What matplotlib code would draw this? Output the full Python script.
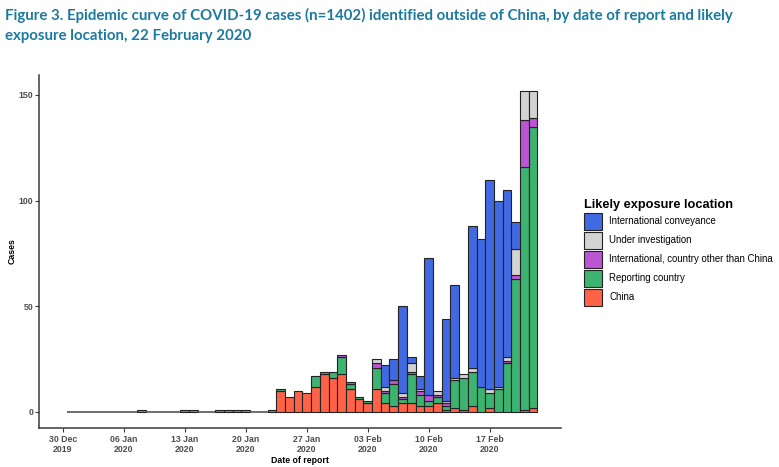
import pandas as pd
import numpy as np
import matplotlib.pyplot as plt
from matplotlib.patches import Patch

# daily counts, 31 Dec 2019 .. 22 Feb 2020
dates = pd.date_range('2019-12-31', '2020-02-22')

china = [0,
         0, 0, 0, 0, 0, 0, 0, 1, 0, 0,
         0, 0, 1, 1, 0, 0, 1, 1, 1, 1,
         0, 0, 1, 10, 7, 10, 9, 12, 18, 16, 18,
         11, 6, 4, 11, 4, 3, 4, 4, 3, 3, 4,
         1, 2, 1, 3, 0, 2, 0, 0, 0, 1, 2]
reporting = [0,
             0, 0, 0, 0, 0, 0, 0, 0, 0, 0,
             0, 0, 0, 0, 0, 0, 0, 0, 0, 0,
             0, 0, 0, 1, 0, 0, 0, 5, 1, 3, 8,
             2, 1, 1, 10, 5, 10, 2, 14, 5, 2, 3,
             2, 13, 15, 16, 12, 7, 11, 23, 63, 115, 133]
intl_other = [0,
              0, 0, 0, 0, 0, 0, 0, 0, 0, 0,
              0, 0, 0, 0, 0, 0, 0, 0, 0, 0,
              0, 0, 0, 0, 0, 0, 0, 0, 0, 0, 1,
              1, 0, 0, 2, 1, 2, 1, 1, 2, 3, 1,
              1, 0, 0, 0, 0, 0, 0, 1, 2, 22, 4]
under_inv = [0,
             0, 0, 0, 0, 0, 0, 0, 0, 0, 0,
             0, 0, 0, 0, 0, 0, 0, 0, 0, 0,
             0, 0, 0, 0, 0, 0, 0, 0, 0, 0, 0,
             0, 0, 0, 2, 2, 0, 2, 4, 1, 0, 2,
             1, 1, 2, 2, 0, 2, 1, 2, 12, 14, 13]
conveyance = [0,
              0, 0, 0, 0, 0, 0, 0, 0, 0, 0,
              0, 0, 0, 0, 0, 0, 0, 0, 0, 0,
              0, 0, 0, 0, 0, 0, 0, 0, 0, 0, 0,
              0, 0, 0, 0, 10, 10, 41, 3, 6, 65, 0,
              39, 44, 0, 67, 70, 99, 88, 79, 13, 0, 0]

# stacking order bottom -> top
series = [('China', china, 'tomato'),
          ('Reporting country', reporting, 'mediumseagreen'),
          ('International, country other than China', intl_other, 'mediumorchid'),
          ('Under investigation', under_inv, 'lightgray'),
          ('International conveyance', conveyance, 'royalblue')]

tick_dates = pd.to_datetime(['2019-12-30', '2020-01-06', '2020-01-13', '2020-01-20',
                             '2020-01-27', '2020-02-03', '2020-02-10', '2020-02-17'])
tick_labels = ['30 Dec\n2019', '06 Jan\n2020', '13 Jan\n2020', '20 Jan\n2020',
               '27 Jan\n2020', '03 Feb\n2020', '10 Feb\n2020', '17 Feb\n2020']

plt.rcParams['font.family'] = ['Liberation Sans', 'DejaVu Sans']
grey = '#4d4d4d'

fig = plt.figure(figsize=(7.79, 4.67), dpi=100)
ax = fig.add_axes([39 / 779, 39 / 467, (561 - 39) / 779, (428 - 74.7) / 467])

bottom = np.zeros(len(dates))
for name, vals, col in series:
    vals = np.array(vals, dtype=float)
    m = vals > 0
    ax.bar(dates[m], vals[m], width=1, bottom=bottom[m], color=col,
           edgecolor='#222222', linewidth=0.8)
    bottom += vals

# days with no cases show as flat outline
zero = bottom == 0
ax.bar(dates[zero], np.zeros(zero.sum()), width=1, color='none',
       edgecolor='#555555', linewidth=1.2)

origin = pd.Timestamp('2019-12-30')
ax.set_xlim(origin - pd.Timedelta(days=2.75), origin + pd.Timedelta(days=57.2))
ax.set_ylim(-7.6, 159.6)
ax.set_xticks(tick_dates)
ax.set_xticklabels(tick_labels)
ax.set_yticks([0, 50, 100, 150])

for s in ['top', 'right']:
    ax.spines[s].set_visible(False)
for s in ['left', 'bottom']:
    ax.spines[s].set_color('#3a3a3a')
    ax.spines[s].set_linewidth(1.1)
ax.tick_params(colors='#3a3a3a', length=3, width=0.8, labelsize=6.3, labelcolor=grey)
ax.tick_params(axis='x', pad=2)
ax.tick_params(axis='y', pad=1)
for lab in ax.get_xticklabels() + ax.get_yticklabels():
    lab.set_fontweight('bold')

ax.set_xlabel('Date of report', fontsize=6.3, fontweight='bold', labelpad=1)
ax.set_ylabel('Cases', fontsize=6.3, fontweight='bold', labelpad=1.5)

handles = [Patch(facecolor=col, edgecolor='#222222', linewidth=0.8) for _, _, col in series][::-1]
labels = [name for name, _, _ in series][::-1]
ax.legend(handles, labels, loc='upper left', bbox_to_anchor=(584 / 779, 1 - 199 / 467),
          bbox_transform=fig.transFigure, frameon=False, title='Likely exposure location',
          title_fontproperties={'weight': 'bold', 'size': 9.2}, fontsize=6.9,
          handlelength=1.85, handleheight=2.35, labelspacing=0.21, handletextpad=0.8,
          borderpad=0, borderaxespad=0, alignment='left')

title_col = '#1b7a9e'
fig.text(5 / 779, 1 - 15 / 467,
         'Figure 3. Epidemic curve of COVID-19 cases (n=1402) identified outside of China, '
         'by date of report and likely',
         fontsize=10.8, fontweight='bold', color=title_col, family='Lato', va='center')
fig.text(5 / 779, 1 - 36 / 467, 'exposure location, 22 February 2020',
         fontsize=10.8, fontweight='bold', color=title_col, family='Lato', va='center')

fig.savefig('out.png', dpi=100)
